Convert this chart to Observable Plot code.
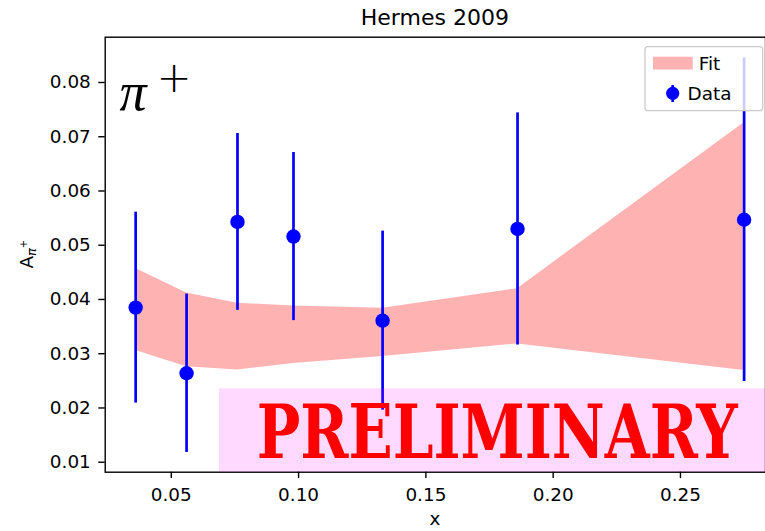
<!DOCTYPE html>
<html><head><meta charset="utf-8">
<script src="https://cdn.jsdelivr.net/npm/d3@7"></script>
<script src="https://cdn.jsdelivr.net/npm/@observablehq/plot@0.6"></script>
<style>body{margin:0;background:#fff;} svg{display:block;}</style>
</head><body><div id="chart"></div>
<script>
// ---- data ----
const xBins   = [0.036, 0.056, 0.076, 0.098, 0.133, 0.186, 0.275];
const asym    = [0.0385, 0.0264, 0.0543, 0.0516, 0.0361, 0.0530, 0.0547];
const asymErr = [0.0176, 0.0146, 0.0163, 0.0155, 0.0165, 0.0214, 0.0298];
const fitLow  = [0.0306, 0.0276, 0.0270, 0.0282, 0.0295, 0.0318, 0.0269];
const fitHigh = [0.0457, 0.0412, 0.0393, 0.0388, 0.0384, 0.0420, 0.0726];

const xTicks = [0.05, 0.10, 0.15, 0.20, 0.25];
const yTicks = [0.01, 0.02, 0.03, 0.04, 0.05, 0.06, 0.07, 0.08];
const xDomain = [0.02404, 0.2834];
const yDomain = [0.00816, 0.08835];

const titleText = "Hermes 2009";
const xLabel = "x";
const legendLabels = ["Fit", "Data"];
const prelimLabel = "PRELIMINARY";
const prelimBoxLeft = [0.0689];
const prelimBoxTop = [0.02353];
const prelimTextPos = [0.178, 0.0108];

const rows = xBins.map((x, i) => ({x, y: asym[i], e: asymErr[i], lo: fitLow[i], hi: fitHigh[i]}));
const boxRows = [{x1: prelimBoxLeft[0], x2: xDomain[1], y1: yDomain[0], y2: prelimBoxTop[0]}];

const W = 765, H = 531;
const mL = 104.7, mR = 0, mT = 36.7, mB = 59.3;

const svgEl = Plot.plot({
  width: W, height: H,
  marginLeft: mL, marginRight: mR, marginTop: mT, marginBottom: mB,
  style: {fontFamily: "DejaVu Sans", fontSize: "18.4px", color: "black", background: "white"},
  x: {domain: xDomain, label: null},
  y: {domain: yDomain, label: null},
  marks: [
    Plot.areaY(rows, {x: "x", y1: "lo", y2: "hi", fill: "#ff0000", fillOpacity: 0.3}),
    Plot.ruleX(rows, {x: "x", y1: d => d.y - d.e, y2: d => d.y + d.e, stroke: "#0000ff", strokeWidth: 2.7}),
    Plot.dot(rows, {x: "x", y: "y", r: 7.2, fill: "#0000ff", stroke: null}),
    Plot.axisX({ticks: xTicks, tickFormat: d3.format(".2f"), tickSize: 6.4, tickPadding: 9, strokeWidth: 1.4, label: null}),
    Plot.axisY({ticks: yTicks, tickFormat: d3.format(".2f"), tickSize: 6.4, tickPadding: 8, strokeWidth: 1.4, label: null}),
    Plot.frame({stroke: "black", strokeWidth: 1.4}),
    Plot.rect(boxRows, {x1: "x1", x2: "x2", y1: "y1", y2: "y2", fill: "#ff00ff", fillOpacity: 0.15}),
    Plot.text([prelimLabel], {x: () => prelimTextPos[0], y: () => prelimTextPos[1], text: d => d,
      fontFamily: "DejaVu Serif, Liberation Serif, serif", fontWeight: "bold", fontSize: 75, fill: "#ff0000",
      textAnchor: "middle", lineAnchor: "bottom"})
  ]
});
document.getElementById("chart").appendChild(svgEl);

const svg = d3.select(svgEl);
// fit PRELIMINARY to its width in the reference
svg.selectAll("text").filter(function() { return this.textContent === prelimLabel; })
  .attr("textLength", 481).attr("lengthAdjust", "spacingAndGlyphs");
// title
svg.append("text").attr("x", (mL + W - mR) / 2).attr("y", 25)
  .attr("text-anchor", "middle").attr("font-family", "DejaVu Sans").attr("font-size", 22).attr("fill", "black")
  .text(titleText);
// x label
svg.append("text").attr("x", (mL + W - mR) / 2).attr("y", 525)
  .attr("text-anchor", "middle").attr("font-family", "DejaVu Sans").attr("font-size", 18.4).attr("fill", "black")
  .text(xLabel);
// y label A_{pi^+}
const yl = svg.append("text").attr("transform", `translate(33,${(mT + H - mB) / 2}) rotate(-90)`)
  .attr("text-anchor", "middle").attr("font-family", "DejaVu Sans").attr("fill", "black");
yl.append("tspan").attr("font-size", 18.4).text("A");
yl.append("tspan").attr("font-size", 13).attr("font-style", "italic").attr("dy", 3).text("π");
yl.append("tspan").attr("font-size", 10).attr("dy", -9).text("+");
// pi+ annotation
svg.append("text").attr("x", 133).attr("y", 110).attr("font-family", "Liberation Serif, serif").attr("font-style", "italic")
  .attr("font-size", 54).attr("fill", "black").text("π");
svg.append("text").attr("x", 174).attr("y", 92).attr("font-family", "DejaVu Sans")
  .attr("font-size", 42).attr("font-weight", 300).attr("fill", "black").text("+");
// legend
const lg = svg.append("g");
lg.append("rect").attr("x", 645).attr("y", 46.7).attr("width", 117.7).attr("height", 64).attr("rx", 3)
  .attr("fill", "white").attr("fill-opacity", 0.8).attr("stroke", "#cccccc").attr("stroke-width", 1.3);
lg.append("rect").attr("x", 653).attr("y", 56.7).attr("width", 39.7).attr("height", 12.8)
  .attr("fill", "#ff0000").attr("fill-opacity", 0.3);
lg.append("line").attr("x1", 672.7).attr("x2", 672.7).attr("y1", 85).attr("y2", 102)
  .attr("stroke", "#0000ff").attr("stroke-width", 2.7);
lg.append("circle").attr("cx", 672.7).attr("cy", 93.3).attr("r", 6.6).attr("fill", "#0000ff");
lg.append("text").attr("x", 709.5).attr("y", 70).attr("font-family", "DejaVu Sans").attr("font-size", 18.4).text(legendLabels[0]);
lg.append("text").attr("x", 709.5).attr("y", 100).attr("font-family", "DejaVu Sans").attr("font-size", 18.4).text(legendLabels[1]);
</script>
</body></html>
